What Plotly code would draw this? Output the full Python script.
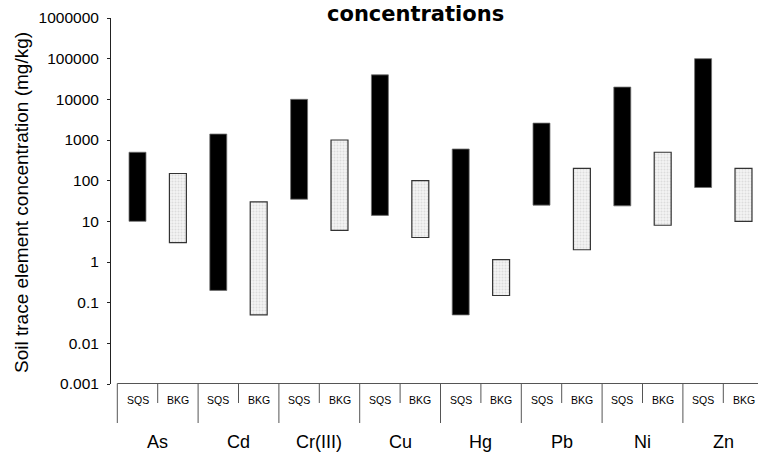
import plotly.graph_objects as go

# Trace element ranges (mg/kg): soil quality standards (SQS) vs background (BKG)
elements = ["As", "Cd", "Cr(III)", "Cu", "Hg", "Pb", "Ni", "Zn"]
sqs_low = [10, 0.2, 35, 14, 0.05, 25, 24, 68]
sqs_high = [500, 1400, 10000, 40000, 600, 2600, 20000, 100000]
bkg_low = [3, 0.05, 6, 4, 0.15, 2, 8, 10]
bkg_high = [150, 30, 1000, 100, 1.15, 200, 500, 200]
sub_labels = ["SQS", "BKG"]
y_ticks = [0.001, 0.01, 0.1, 1, 10, 100, 1000, 10000, 100000, 1000000]
y_ticktext = ["0.001", "0.01", "0.1", "1", "10", "100", "1000", "10000", "100000", "1000000"]

FONT = "Liberation Sans, Arial, sans-serif"
W, H = 758, 455
ML, MR, MT, MB = 111, 0, 18, 71
slot = 40.4                     # pixels per sub-category slot
x0 = -(117.3 - ML) / slot       # category table starts slightly right of the y axis
x1 = x0 + (W - ML - MR) / slot

n = len(elements)
sqs_x = [2 * i + 0.5 for i in range(n)]
bkg_x = [2 * i + 1.5 for i in range(n)]

fig = go.Figure()
fig.add_trace(go.Bar(
    x=sqs_x, base=sqs_low,
    y=[h - l for h, l in zip(sqs_high, sqs_low)],
    width=0.42, name="SQS",
    marker=dict(color="#000000", line=dict(color="#6e6e6e", width=0.8)),
))
fig.add_trace(go.Bar(
    x=bkg_x, base=bkg_low,
    y=[h - l for h, l in zip(bkg_high, bkg_low)],
    width=0.42, name="BKG",
    marker=dict(
        color="#f2f2f2",
        line=dict(color="#333333", width=1.2),
        pattern=dict(shape=".", bgcolor="#f4f4f4", fgcolor="#c4c4c4",
                     size=3, solidity=0.35),
    ),
))


def py(p):
    """Pixel row -> paper y coordinate."""
    return (H - MB - p) / (H - MT - MB)


shapes = []
line_style = dict(color="#555555", width=1)
# top edge of the category table
shapes.append(dict(type="line", xref="x", yref="paper", x0=0, x1=2 * n + 1,
                   y0=py(383.5), y1=py(383.5), line=line_style))
# dividers: long ones between elements, short ones between SQS/BKG
for k in range(2 * n + 1):
    bottom = 423 if k % 2 == 0 else 403
    shapes.append(dict(type="line", xref="x", yref="paper", x0=k, x1=k,
                       y0=py(383.5), y1=py(bottom), line=line_style))

annotations = []
for i, el in enumerate(elements):
    for j, sl in enumerate(sub_labels):
        annotations.append(dict(x=2 * i + j + 0.5, y=py(399.5), xref="x", yref="paper",
                                text=sl, showarrow=False, yanchor="middle",
                                font=dict(family=FONT, size=10.5, color="#000")))
    annotations.append(dict(x=2 * i + 1, y=py(441.5), xref="x", yref="paper",
                            text=el, showarrow=False, yanchor="middle",
                            font=dict(family=FONT, size=18, color="#000")))

# y axis title
annotations.append(dict(x=(21 - ML) / (W - ML - MR), y=py(203), xref="paper", yref="paper",
                        text="Soil trace element concentration (mg/kg)", textangle=-90,
                        showarrow=False, xanchor="center", yanchor="middle",
                        font=dict(family=FONT, size=19, color="#000")))
# chart title
annotations.append(dict(x=(415.5 - ML) / (W - ML - MR), y=py(0), xref="paper", yref="paper",
                        text="<b>concentrations</b>", showarrow=False,
                        xanchor="center", yanchor="top",
                        font=dict(family="DejaVu Sans, sans-serif", size=21, color="#000")))

fig.update_layout(
    width=W, height=H,
    margin=dict(l=ML, r=MR, t=MT, b=MB, pad=0),
    paper_bgcolor="white", plot_bgcolor="white",
    showlegend=False, barmode="overlay",
    shapes=shapes, annotations=annotations,
    xaxis=dict(range=[x0, x1], showgrid=False, zeroline=False, showline=False,
               showticklabels=False, ticks=""),
    yaxis=dict(type="log", range=[-3, 6], showgrid=False, zeroline=False,
               showline=True, linecolor="#222222", linewidth=1,
               ticks="outside", ticklen=3, tickcolor="#222222",
               tickvals=y_ticks, ticktext=y_ticktext, ticklabelstandoff=5,
               tickfont=dict(family=FONT, size=15.5, color="#000")),
)

fig.write_html("out.html")
